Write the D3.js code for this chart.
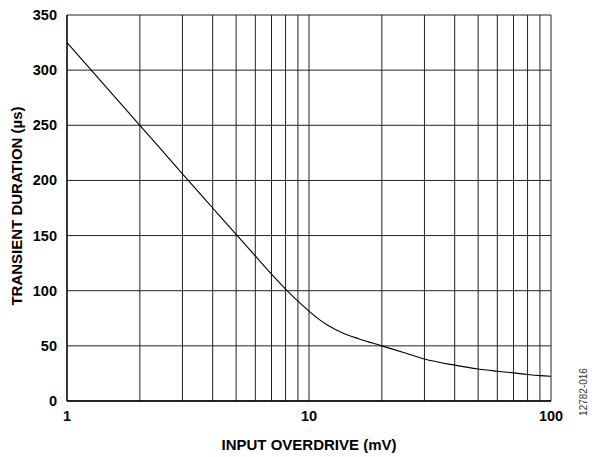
<!DOCTYPE html>
<html>
<head>
<meta charset="utf-8">
<script src="https://cdn.jsdelivr.net/npm/d3@7"></script>
<style>
  body { margin: 0; background: #fff; }
  text { font-family: "Liberation Sans", Arial, sans-serif; }
</style>
</head>
<body>
<div id="graph"></div>
<script>
// transient duration vs input overdrive, log x axis
var overdrive = [1, 2, 3, 4, 5, 6, 7, 8, 9, 10, 11, 12, 14, 16, 20, 25, 30, 40, 50, 60, 70, 80, 90, 100];
var duration = [325, 250, 206, 175, 151, 131.5, 115, 101.5, 90.5, 81.5, 74, 68.5, 61, 56.5, 50, 43.5, 38, 32.5, 29, 27, 25.5, 24, 23, 22.5];
var xTicks = [1, 10, 100];
var yTicks = [0, 50, 100, 150, 200, 250, 300, 350];

(function() {
	var chart = {
		width: 592,
		height: 457,
		left: 67,
		right: 551,
		top: 15,
		bottom: 401
	};

	var svg = d3.select("#graph").append("svg")
		.attr("width", chart.width)
		.attr("height", chart.height);

	var x = d3.scaleLog().domain([1, 100]).range([chart.left, chart.right]);
	var y = d3.scaleLinear().domain([0, 350]).range([chart.bottom, chart.top]);

	// vertical grid at every 1..9 of each decade
	var vGrid = [];
	[1, 10].forEach(function(dec) {
		for (var i = 1; i <= 10; i++) vGrid.push(dec * i);
	});
	vGrid = Array.from(new Set(vGrid));

	svg.append("g").selectAll("line")
		.data(vGrid)
		.enter().append("line")
		.attr("x1", function(d) { return x(d); })
		.attr("x2", function(d) { return x(d); })
		.attr("y1", chart.top)
		.attr("y2", chart.bottom)
		.attr("stroke", "#222")
		.attr("stroke-width", 1);

	svg.append("g").selectAll("line")
		.data(yTicks)
		.enter().append("line")
		.attr("x1", chart.left)
		.attr("x2", chart.right)
		.attr("y1", function(d) { return y(d); })
		.attr("y2", function(d) { return y(d); })
		.attr("stroke", "#222")
		.attr("stroke-width", 1);

	// bottom axis line, a bit heavier
	svg.append("line")
		.attr("x1", chart.left).attr("x2", chart.right)
		.attr("y1", chart.bottom).attr("y2", chart.bottom)
		.attr("stroke", "#000").attr("stroke-width", 1.5);
	svg.append("line")
		.attr("x1", chart.left).attr("x2", chart.left)
		.attr("y1", chart.top).attr("y2", chart.bottom)
		.attr("stroke", "#000").attr("stroke-width", 1.2);

	// the curve
	var line = d3.line()
		.x(function(d, i) { return x(overdrive[i]); })
		.y(function(d) { return y(d); })
		.curve(d3.curveMonotoneX);

	svg.append("path")
		.datum(duration)
		.attr("d", line)
		.attr("fill", "none")
		.attr("stroke", "#000")
		.attr("stroke-width", 1.1);

	// tick labels
	svg.append("g").selectAll("text")
		.data(yTicks)
		.enter().append("text")
		.attr("x", 57)
		.attr("y", function(d) { return y(d) + 5; })
		.attr("text-anchor", "end")
		.attr("font-size", 14.5)
		.attr("font-weight", "bold")
		.text(function(d) { return d; });

	svg.append("g").selectAll("text")
		.data(xTicks)
		.enter().append("text")
		.attr("x", function(d) { return x(d); })
		.attr("y", 421)
		.attr("text-anchor", "middle")
		.attr("font-size", 14.5)
		.attr("font-weight", "bold")
		.text(function(d) { return d; });

	// axis titles
	svg.append("text")
		.attr("x", 309)
		.attr("y", 450)
		.attr("text-anchor", "middle")
		.attr("font-size", 15)
		.attr("font-weight", "bold")
		.text("INPUT OVERDRIVE (mV)");

	svg.append("text")
		.attr("transform", "translate(22,206) rotate(-90)")
		.attr("text-anchor", "middle")
		.attr("font-size", 15)
		.attr("font-weight", "bold")
		.text("TRANSIENT DURATION (µs)");

	svg.append("text")
		.attr("transform", "translate(587,392) rotate(-90)")
		.attr("text-anchor", "middle")
		.attr("font-size", 10)
		.attr("fill", "#333")
		.text("12782-016");
})();
</script>
</body>
</html>
